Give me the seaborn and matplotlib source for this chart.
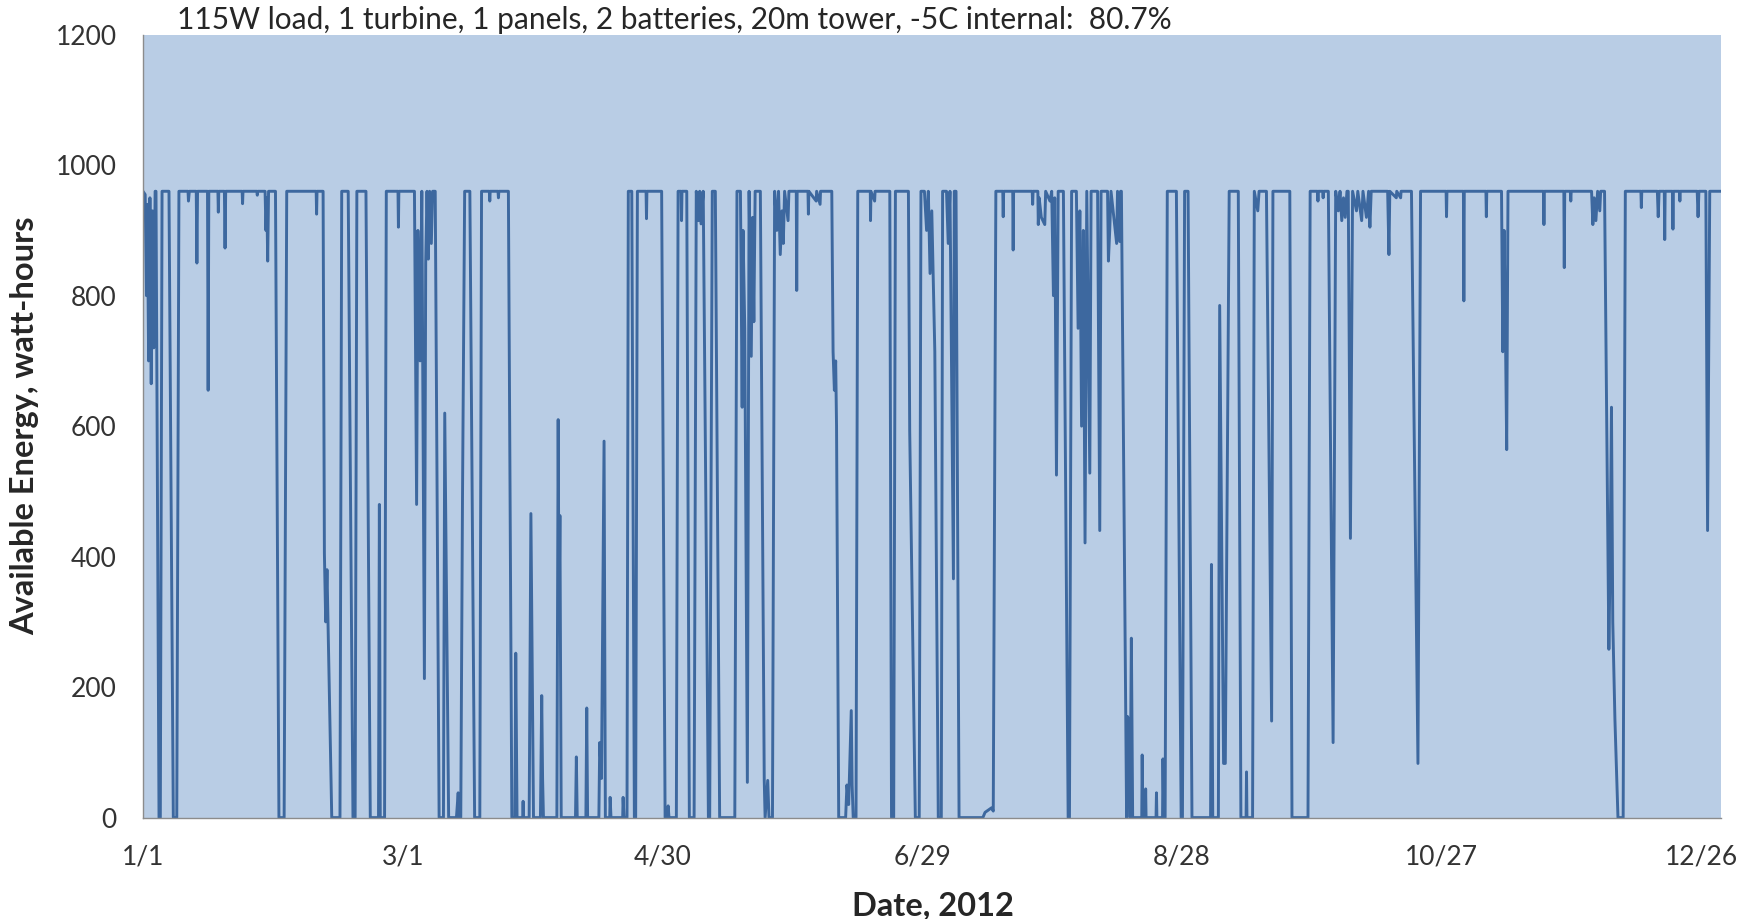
import matplotlib
matplotlib.use("Agg")
import matplotlib.pyplot as plt
import seaborn as sns
import pandas as pd

# ---- data: (day of 2012, available energy Wh) ----
jan_mar = [(0.0, 960), (0.5, 955), (0.8, 800), (1.0, 940), (1.3, 700), (1.6, 950), (1.9, 665), (2.2, 930),
           (2.5, 720), (2.8, 960), (3.0, 960), (3.7, 0), (4.0, 0), (4.4, 960), (6.0, 960), (7.0, 0), (7.8, 0),
           (8.3, 960), (10.4, 960), (10.5, 945), (10.7, 960), (12.3, 960), (12.45, 850), (12.6, 960),
           (14.9, 960), (15.05, 655), (15.2, 960), (17.3, 960), (17.4, 928), (17.5, 960), (18.8, 960),
           (18.95, 873), (19.1, 960), (22.9, 960), (23.0, 941), (23.1, 960), (26.3, 960), (26.4, 954),
           (26.5, 960), (28.2, 960), (28.4, 900), (28.6, 950), (28.8, 853), (29.0, 960), (30.6, 960),
           (31.4, 0), (32.6, 0), (33.2, 960), (40.0, 960), (40.1, 925), (40.2, 960), (41.6, 960),
           (41.9, 405), (42.2, 300), (42.5, 380), (42.9, 239), (43.6, 0), (45.5, 0), (45.9, 960),
           (47.4, 960), (48.5, 0), (49.0, 0), (49.4, 960), (51.5, 960), (52.5, 0), (54.4, 0), (54.6, 480),
           (54.8, 0), (55.8, 0), (56.2, 960), (58.9, 960), (59.0, 905), (59.1, 960), (62.7, 960),
           (63.2, 480), (63.5, 900), (64.0, 700), (64.4, 960), (65.0, 213), (65.3, 850), (65.6, 960),
           (65.9, 856), (66.2, 960), (66.6, 880), (66.9, 960), (67.5, 960), (68.4, 0), (69.4, 0),
           (69.7, 620), (70.6, 0), (72.4, 0), (72.8, 38), (73.0, 0), (73.4, 0), (73.8, 490), (74.3, 960),
           (75.5, 960), (76.6, 0), (77.8, 0), (78.2, 960), (80.0, 960), (80.1, 945), (80.2, 960),
           (82.0, 960), (82.1, 950), (82.2, 960), (84.4, 960), (85.2, 0), (85.9, 0), (86.1, 252),
           (86.4, 0), (87.7, 0), (87.8, 25), (87.9, 0), (89.2, 0), (89.6, 466), (90.2, 0)]

apr_jun = [(91.8, 0), (92.1, 187), (92.3, 60), (92.5, 0), (95.6, 0), (95.9, 610), (96.1, 300), (96.3, 463),
           (96.6, 0), (99.9, 0), (100.1, 93), (100.3, 0), (102.3, 0), (102.5, 168), (102.7, 0), (105.3, 0),
           (105.5, 115), (105.9, 60), (106.5, 577), (106.8, 0), (107.8, 0), (107.9, 31), (108.1, 0),
           (110.8, 0), (110.9, 31), (111.1, 0), (111.8, 0), (112.1, 960), (112.9, 960), (113.5, 0),
           (113.8, 0), (114.2, 960), (116.2, 960), (116.3, 918), (116.4, 960), (119.8, 960), (120.6, 0),
           (121.2, 0), (121.3, 18), (121.5, 0), (123.2, 0), (123.6, 960), (124.3, 960), (124.4, 915),
           (124.5, 960), (125.6, 960), (126.2, 0), (127.3, 0), (127.8, 960), (128.3, 915), (128.6, 960),
           (128.9, 910), (129.4, 960), (130.0, 493), (130.6, 0), (130.9, 0), (131.5, 960), (132.2, 960),
           (133.2, 0), (136.7, 0), (137.2, 960), (138.0, 960), (138.4, 629), (138.6, 900), (139.0, 750),
           (139.6, 54), (140.0, 960), (140.5, 707), (140.8, 920), (141.1, 760), (141.4, 960), (142.6, 960),
           (143.5, 57), (143.7, 0), (144.3, 57), (144.6, 0), (145.4, 0), (145.9, 960), (146.4, 900),
           (146.8, 960), (147.2, 863), (147.6, 930), (147.9, 880), (148.2, 960), (149.0, 915), (149.2, 960),
           (150.9, 960), (151.0, 808), (151.1, 960), (153.6, 960), (153.7, 925), (153.8, 960), (155.5, 945),
           (155.6, 960), (156.4, 940), (156.5, 960), (159.1, 960), (159.4, 714), (159.7, 655), (160.0, 700),
           (160.2, 600), (160.7, 0), (162.3, 0), (162.6, 50), (163.0, 20), (163.6, 164), (163.8, 50),
           (164.05, 0), (164.7, 0), (165.1, 960), (168.0, 960), (168.05, 915), (168.15, 960), (169.0, 945),
           (169.1, 960), (172.5, 960), (172.9, 0), (173.4, 0), (173.8, 960), (176.8, 960), (177.1, 593),
           (178.4, 0), (179.3, 0), (179.7, 960)]

jul_sep = [(180.5, 960), (181.0, 900), (181.4, 960), (181.8, 834), (182.2, 930), (182.5, 834), (182.9, 714),
           (183.7, 0), (184.4, 0), (184.7, 960), (185.6, 960), (186.0, 880), (186.4, 960), (187.2, 366),
           (187.4, 960), (187.8, 960), (188.5, 0), (194.0, 0), (194.5, 8), (196.0, 15), (196.4, 10),
           (197.0, 960), (198.6, 960), (198.7, 921), (198.8, 960), (200.9, 960), (201.0, 870), (201.1, 960),
           (205.4, 960), (205.5, 940), (205.6, 960), (206.7, 960), (206.8, 909), (207.0, 950), (207.5, 920),
           (208.3, 909), (208.5, 960), (209.5, 945), (209.9, 960), (210.3, 800), (210.6, 950), (211.0, 525),
           (211.4, 960), (212.6, 960), (213.7, 0), (214.0, 0), (214.5, 960), (215.6, 960), (216.0, 750),
           (216.4, 930), (216.8, 600), (217.2, 900), (217.6, 421), (218.0, 960), (218.7, 528), (219.0, 960),
           (220.5, 960), (221.0, 440), (221.3, 960), (222.8, 960), (223.0, 853), (223.3, 900), (223.6, 960),
           (224.9, 880), (225.1, 960), (225.6, 883), (225.8, 960), (226.0, 960), (227.2, 0), (227.4, 155),
           (227.7, 150), (228.0, 0), (228.3, 275), (228.6, 0), (230.7, 0), (230.8, 96), (230.95, 0),
           (231.5, 0), (231.6, 44), (231.7, 0), (234.0, 0), (234.1, 38), (234.2, 0), (235.5, 0), (235.6, 90),
           (235.8, 0), (236.1, 0), (236.6, 960), (238.7, 960), (239.8, 0), (240.1, 0), (240.6, 960),
           (241.4, 960), (242.3, 0), (246.6, 0), (246.8, 388), (247.1, 0), (248.4, 0), (248.7, 785),
           (249.6, 83), (250.0, 83), (250.5, 564), (250.9, 960), (253.0, 960), (253.6, 0), (254.8, 0),
           (254.9, 70), (255.0, 0), (256.3, 0), (256.7, 960), (257.5, 930), (257.8, 960), (259.5, 960),
           (260.7, 148), (261.0, 960), (264.9, 960), (265.4, 0), (269.1, 0), (269.6, 960)]

oct_dec = [(271.3, 960), (271.4, 945), (271.5, 960), (272.5, 960), (272.6, 950), (272.7, 960), (273.8, 960),
           (274.9, 115), (275.5, 960), (276.1, 930), (276.5, 960), (276.9, 915), (277.3, 950), (277.7, 920),
           (278.1, 960), (278.4, 960), (278.9, 428), (279.4, 960), (280.3, 930), (280.6, 960), (281.5, 915),
           (281.8, 960), (282.6, 920), (283.1, 960), (283.4, 905), (283.7, 960), (287.5, 960), (287.8, 863),
           (288.0, 960), (289.5, 950), (289.6, 960), (290.5, 950), (290.6, 960), (293.0, 960), (294.5, 83),
           (295.1, 960), (301.0, 960), (301.1, 921), (301.2, 960), (305.0, 960), (305.1, 792), (305.2, 960),
           (310.2, 960), (310.3, 921), (310.4, 960), (313.8, 960), (314.1, 714), (314.4, 900), (314.7, 750),
           (315.0, 564), (315.3, 960), (323.5, 960), (323.6, 909), (323.7, 960), (328.2, 960), (328.3, 843),
           (328.4, 960), (329.7, 960), (329.8, 945), (329.9, 960), (334.6, 960), (334.9, 909), (335.2, 950),
           (335.6, 915), (336.0, 960), (336.5, 930), (336.7, 960), (337.6, 960), (338.6, 258), (338.9, 400),
           (339.2, 629), (339.5, 300), (340.0, 150), (340.7, 0), (341.9, 0), (342.4, 960), (346.0, 960),
           (346.1, 935), (346.2, 960), (349.8, 960), (350.0, 921), (350.2, 960), (351.4, 960), (351.5, 886),
           (351.6, 960), (353.3, 960), (353.4, 902), (353.5, 960), (354.9, 960), (355.0, 945), (355.1, 960),
           (359.0, 960), (359.2, 921), (359.4, 960), (361.0, 960), (361.4, 440), (361.9, 960), (365.0, 960)]

tick_days = [0, 60, 120, 180, 240, 300, 360]
tick_labels = ["1/1", "3/1", "4/30", "6/29", "8/28", "10/27", "12/26"]
y_ticks = [0, 200, 400, 600, 800, 1000, 1200]
title = "115W load, 1 turbine, 1 panels, 2 batteries, 20m tower, -5C internal:  80.7%"

# ---- figure ----
sns.set_style("white")
plt.rcParams['font.family'] = ['Lato', 'DejaVu Sans']

W, H = 1756, 919
fig = plt.figure(figsize=(W / 100, H / 100), dpi=100)
ax = fig.add_axes([143 / W, (H - 817.6) / H, 1578 / W, 782.9 / H])
ax.set_facecolor('#B9CDE5')

df = pd.DataFrame(jan_mar + apr_jun + jul_sep + oct_dec, columns=["day", "wh"])
sns.lineplot(data=df, x="day", y="wh", estimator=None, sort=False,
             color="#3D689F", linewidth=2.1, ax=ax)

ax.set_xlim(0, 364.5)
ax.set_ylim(0, 1200)
ax.set_xticks(tick_days)
ax.set_xticklabels(tick_labels)
ax.set_yticks(y_ticks)
ax.set_yticklabels([str(v) for v in y_ticks])

for s in ["top", "right"]:
    ax.spines[s].set_visible(False)
for s in ["left", "bottom"]:
    ax.spines[s].set_color("#8C8C8C")
    ax.spines[s].set_linewidth(1.0)

ax.tick_params(axis="both", direction="out", length=4.5, width=1, color="#8C8C8C",
               labelsize=19, labelcolor="#333333")
ax.tick_params(axis="x", pad=15)
ax.tick_params(axis="y", pad=14.5)

ax.set_xlabel("Date, 2012", fontsize=23.5, fontweight="bold", color="#262626")
ax.xaxis.set_label_coords(0.5006, -0.113)
ax.xaxis.label.set_va("center")
ax.set_ylabel("Available Energy, watt-hours", fontsize=23.5, fontweight="bold", color="#262626")
ax.yaxis.set_label_coords(-0.0748, 0.5)
ax.yaxis.label.set_va("center")

fig.text(177 / W, 1 - 20 / H, title, ha="left", va="center", fontsize=21.5, color="#262626")

fig.savefig("out.png", dpi=100, facecolor="white")
